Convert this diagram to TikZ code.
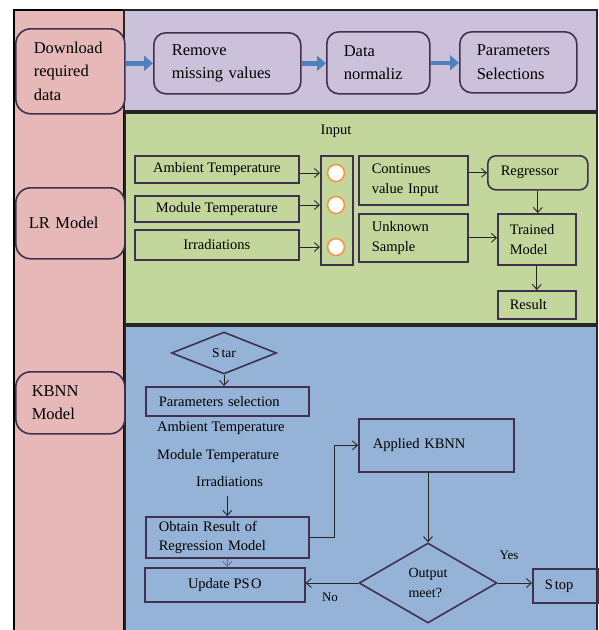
\documentclass[tikz,border=0pt]{standalone}
\usepackage{fontspec}
\setmainfont{Liberation Serif}
\usetikzlibrary{arrows.meta,shapes.geometric}
\definecolor{pinkc}{HTML}{E6B9B8}
\definecolor{purplec}{HTML}{CCC1DA}
\definecolor{greenc}{HTML}{C3D69B}
\definecolor{bluec}{HTML}{95B3D7}
\definecolor{bord}{HTML}{403151}
\definecolor{blockblue}{HTML}{4F81BD}
\definecolor{orangec}{HTML}{F79646}
\definecolor{lightarr}{HTML}{8064A2}
\begin{document}
\begin{tikzpicture}[x=1pt,y=-1pt,
  every node/.style={font=\fontsize{14.5}{19.5}\selectfont},
  big/.style={font=\fontsize{16.5}{23.5}\selectfont},
  panel/.style={draw=black!85,line width=1.6pt},
  box/.style={draw=bord,line width=1.6pt,anchor=north west,inner ysep=0pt},
  lbox/.style={box,align=left},
  rbox/.style={lbox,big,rounded corners=12pt},
  pbox/.style={lbox,big,rounded corners=15pt,fill=pinkc},
  block/.style={draw=blockblue,line width=4.5pt,-{Triangle[length=9pt,width=15pt]}},
  arr/.style={draw=black!85,line width=0.9pt,-{Straight Barb[length=5pt,width=9pt]}},
  dia/.style={diamond,draw=bord,line width=1.6pt,inner sep=0pt},
  inc/.style={circle,draw=orangec,fill=white,line width=1.6pt,minimum size=17pt,inner sep=0pt},
  plain/.style={anchor=west,inner sep=0pt}]
\useasboundingbox (0,0) rectangle (598,630);
% background panels
\fill[white] (0,0) rectangle (598,630);
\fill[pinkc] (14,10) rectangle (124,640);
\draw[black,line width=1.4pt] (14,640) -- (14,10) -- (124,10) -- (124,640);
\draw[black,line width=2.6pt] (14,10) -- (14,640);
\draw[panel,fill=purplec] (124,10) rectangle (597,111);
\draw[panel,fill=greenc] (125,113) rectangle (597,324);
\draw[panel,fill=bluec] (125,326) rectangle (597,640);

% left column
\node[pbox,minimum height=85pt,text width=73pt,inner xsep=18pt] (dl) at (15,28) {Download\\required\\data};
\node[pbox,minimum height=71pt,text width=83pt,inner xsep=13pt] (lr) at (15,187) {LR Model};
\node[pbox,minimum height=62pt,text width=77pt,inner xsep=16pt] (kb) at (15,371) {KBNN\\Model};

% top row
\node[rbox,fill=purplec,minimum height=61pt,text width=111pt,inner xsep=18pt] (rm) at (153,32) {Remove\\missing values};
\node[rbox,fill=purplec,minimum height=62pt,text width=69pt,inner xsep=17pt] (dn) at (326,31) {Data\\normaliz};
\node[rbox,fill=purplec,minimum height=61pt,text width=83pt,inner xsep=17pt] (ps) at (459,31) {Parameters\\Selections};
\draw[block] (dl.east |- rm.west) -- (rm.west);
\draw[block] (rm.east) -- (rm.east -| dn.west);
\draw[block] (dn.east) -- (dn.east -| ps.west);

% LR model panel
\node (inp) at (336,131) {Input};
\node[box,minimum width=164pt,minimum height=27pt] (amb) at (134,155) {Ambient Temperature};
\node[box,minimum width=164pt,minimum height=26pt] (mod) at (134,195) {Module Temperature};
\node[box,minimum width=164pt,minimum height=30pt,anchor=north west] (irr) at (134,229) {Irradiations};
\node[box,minimum width=32pt,minimum height=109pt,inner sep=0pt] (col) at (320,155) {};
\node[inc] (c1) at (336,173) {};
\node[inc] (c2) at (336,205) {};
\node[inc] (c3) at (336,247) {};
\draw[arr] (c1 -| amb.east) -- (c1 -| col.west);
\draw[arr] (c2 -| mod.east) -- (c2 -| col.west);
\draw[arr] (c3 -| irr.east) -- (c3 -| col.west);
\node[lbox,minimum height=49pt,text width=83pt,inner xsep=13pt] (cont) at (358,155) {Continues\\value Input};
\node[lbox,minimum height=48pt,text width=83pt,inner xsep=13pt] (unk) at (358,213) {Unknown\\Sample};
\node[lbox,rounded corners=8pt,minimum height=34pt,text width=74pt,inner xsep=13pt] (reg) at (487,155) {Regressor};
\node[lbox,minimum height=51pt,text width=54pt,inner xsep=12pt] (trn) at (497,213) {Trained\\Model};
\node[lbox,minimum height=28pt,text width=54pt,inner xsep=12pt] (res) at (497,290) {Result};
\draw[arr] (reg.west -| cont.east) -- (reg.west);
\draw[arr] (reg.south) -- (reg.south |- trn.north);
\draw[arr] (unk.east) -- (unk.east -| trn.west);
\draw[arr] (trn.south) -- (trn.south |- res.north);

% KBNN panel
\node[dia,align=center,minimum width=105pt,minimum height=42pt,shape aspect=2.5,font=\fontsize{13.5}{16}\selectfont] (star) at (224,353) {S\kern2pt tar};
\node[lbox,minimum height=29pt,text width=137pt,inner xsep=13pt] (psel) at (145,386) {Parameters selection};
\draw[arr] (star.south) -- (star.south |- psel.north);
\node[plain] (t1) at (157,428) {Ambient Temperature};
\node[plain] (t2) at (157,456) {Module Temperature};
\node[plain] (t3) at (196,482) {Irradiations};
\node[lbox,minimum height=41pt,text width=137pt,inner xsep=13pt] (obt) at (145,516) {Obtain Result of\\Regression Model};
\node[box,minimum width=160pt,minimum height=34pt] (upd) at (144,567) {Update PS\kern1.5pt O};
\draw[arr,shorten <=9pt] (obt.north |- t3.south) -- (obt.north);
\draw[arr,draw=lightarr] (obt.south) -- (obt.south |- upd.north);
\node[lbox,minimum height=53pt,text width=127pt,inner xsep=14pt] (app) at (358,418) {Applied KBNN};
\draw[arr] (obt.east) -- ++(25,0) |- (app.west);
\node[dia,align=left,minimum width=138pt,minimum height=80pt,shape aspect=1.7,font=\fontsize{14}{20}\selectfont] (out) at (428,583) {Output\\meet?};
\draw[arr] (out.north |- app.south) -- (out.north);
\node[lbox,minimum height=34pt,text width=41pt,inner xsep=12pt] (stop) at (532,568) {S\kern2pt top};
\draw[arr] (out.west) -- (out.west -| upd.east);
\draw[arr] (out.east) -- (out.east -| stop.west);
\node[font=\fontsize{13}{14}\selectfont] (yes) at (509,555) {Yes};
\node[font=\fontsize{13}{14}\selectfont] (no) at (330,597) {No};
\end{tikzpicture}
\end{document}
